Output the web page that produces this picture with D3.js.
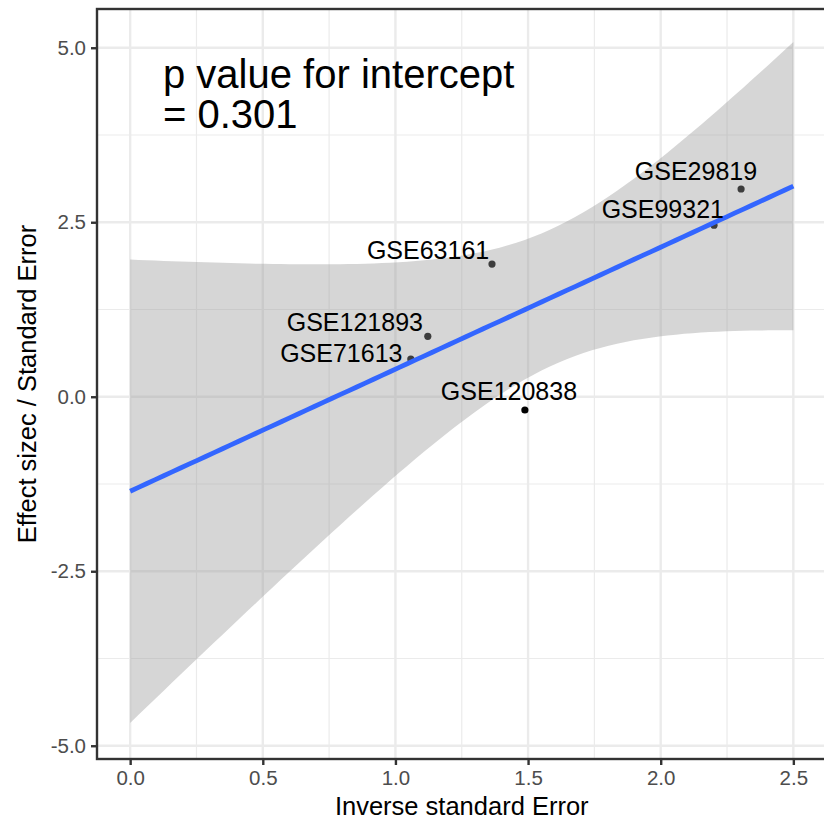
<!DOCTYPE html>
<html><head><meta charset="utf-8">
<script src="https://cdn.jsdelivr.net/npm/d3@7"></script>
<style>body{margin:0;background:#fff}svg{display:block}text{font-family:"Liberation Sans",Arial,sans-serif}</style>
</head><body>
<script>
// ---- data ----
const studies = ["GSE29819","GSE99321","GSE63161","GSE121893","GSE71613","GSE120838"];
const invSE   = [2.303, 2.201, 1.364, 1.122, 1.058, 1.488];
const effSE   = [2.976, 2.457, 1.901, 0.865, 0.540, -0.190];
// repelled label anchor positions (data units)
const labelX  = [2.133, 2.008, 1.123, 0.847, 0.796, 1.428];
const labelY  = [3.234, 2.689, 2.102, 1.065, 0.626, 0.085];
const xTicks = [0, 0.5, 1, 1.5, 2, 2.5];
const yTicks = [-5, -2.5, 0, 2.5, 5];
const xMinor = [0.25, 0.75, 1.25, 1.75, 2.25];
const yMinor = [-3.75, -1.25, 1.25, 3.75];
const annotation = ["p value for intercept", "= 0.301"];
const xTitle = "Inverse standard Error";
const yTitle = "Effect sizec / Standard Error";

const W = 824, H = 819;
const panel = {l: 97, t: 9, r: 826.5, b: 759};
const x = d3.scaleLinear().domain([-0.125, 2.625]).range([panel.l, panel.r]);
const y = d3.scaleLinear().domain([-5.19, 5.555]).range([panel.b, panel.t]);

const svg = d3.select("body").append("svg").attr("width", W).attr("height", H);
svg.append("rect").attr("x",panel.l).attr("y",panel.t).attr("width",panel.r-panel.l).attr("height",panel.b-panel.t).attr("fill","#fff");

const g = svg.append("g");
// grid
xMinor.forEach(v=>g.append("line").attr("x1",x(v)).attr("x2",x(v)).attr("y1",panel.t).attr("y2",panel.b).attr("stroke","#ebebeb").attr("stroke-width",1.2));
yMinor.forEach(v=>g.append("line").attr("y1",y(v)).attr("y2",y(v)).attr("x1",panel.l).attr("x2",panel.r).attr("stroke","#ebebeb").attr("stroke-width",1.2));
xTicks.forEach(v=>g.append("line").attr("x1",x(v)).attr("x2",x(v)).attr("y1",panel.t).attr("y2",panel.b).attr("stroke","#ebebeb").attr("stroke-width",2.4));
yTicks.forEach(v=>g.append("line").attr("y1",y(v)).attr("y2",y(v)).attr("x1",panel.l).attr("x2",panel.r).attr("stroke","#ebebeb").attr("stroke-width",2.4));

// points (drawn before smooth layer)
const pts = studies.map((s,i)=>({s, x: invSE[i], y: effSE[i], lx: labelX[i], ly: labelY[i]}));
g.selectAll("circle.pt").data(pts).join("circle").attr("class","pt")
  .attr("cx",d=>x(d.x)).attr("cy",d=>y(d.y)).attr("r",3.6).attr("fill","#000");

// linear fit with 95% CI
const n = pts.length;
const mx = d3.mean(invSE), my = d3.mean(effSE);
const sxx = d3.sum(invSE, v=>(v-mx)*(v-mx));
const sxy = d3.sum(pts, d=>(d.x-mx)*(d.y-my));
const b1 = sxy/sxx, b0 = my - b1*mx;
const sse = d3.sum(pts, d=>Math.pow(d.y-(b0+b1*d.x),2));
const s = Math.sqrt(sse/(n-2));
const tcrit = 2.776445; // t(0.975, df=4)
const grid = d3.range(0, 80).map(i=>i*2.5/79);
const band = grid.map(v=>{
  const fit = b0+b1*v;
  const se = s*Math.sqrt(1/n + (v-mx)*(v-mx)/sxx);
  return {x:v, fit, lo: fit - tcrit*se, hi: fit + tcrit*se};
});
g.append("path").datum(band)
  .attr("d", d3.area().x(d=>x(d.x)).y0(d=>y(d.lo)).y1(d=>y(d.hi)))
  .attr("fill","#999999").attr("fill-opacity",0.4);
g.append("path").datum(band)
  .attr("d", d3.line().x(d=>x(d.x)).y(d=>y(d.fit)))
  .attr("fill","none").attr("stroke","#3366FF").attr("stroke-width",4.8);

// labels
g.selectAll("text.lab").data(pts).join("text").attr("class","lab")
  .attr("x",d=>x(d.lx)).attr("y",d=>y(d.ly)).attr("dy","0.36em")
  .attr("text-anchor","middle").attr("font-size",25).attr("fill","#000").text(d=>d.s);

// annotation
annotation.forEach((t,i)=>svg.append("text").attr("x",163).attr("y",88+i*40)
  .attr("font-size",40).attr("fill","#000").text(t));

// panel border (left, top, bottom visible; right is beyond window)
svg.append("rect").attr("x",panel.l).attr("y",panel.t).attr("width",panel.r-panel.l).attr("height",panel.b-panel.t)
  .attr("fill","none").attr("stroke","#333333").attr("stroke-width",2.4);

// axes
const xAxis = svg.append("g").attr("transform",`translate(0,${panel.b})`)
  .call(d3.axisBottom(x).tickValues(xTicks).tickFormat(d3.format(".1f")).tickSize(6).tickPadding(5));
const yAxis = svg.append("g").attr("transform",`translate(${panel.l},0)`)
  .call(d3.axisLeft(y).tickValues(yTicks).tickFormat(d3.format(".1f")).tickSize(6).tickPadding(5));
[xAxis,yAxis].forEach(a=>{
  a.select(".domain").remove();
  a.selectAll(".tick line").attr("stroke","#333333").attr("stroke-width",2.4);
  a.selectAll(".tick text").attr("fill","#4d4d4d").attr("font-size",20.5).attr("font-family",'"Liberation Sans",Arial,sans-serif');
});
yAxis.selectAll(".tick text").text(d=>d3.format(".1f")(d).replace("−","-"));

svg.append("text").attr("x",(panel.l+panel.r)/2).attr("y",815).attr("text-anchor","middle")
  .attr("font-size",25.5).attr("fill","#000").text(xTitle);
svg.append("text").attr("transform",`translate(36,${(panel.t+panel.b)/2}) rotate(-90)`).attr("text-anchor","middle")
  .attr("font-size",25.5).attr("fill","#000").text(yTitle);
</script>
</body></html>
